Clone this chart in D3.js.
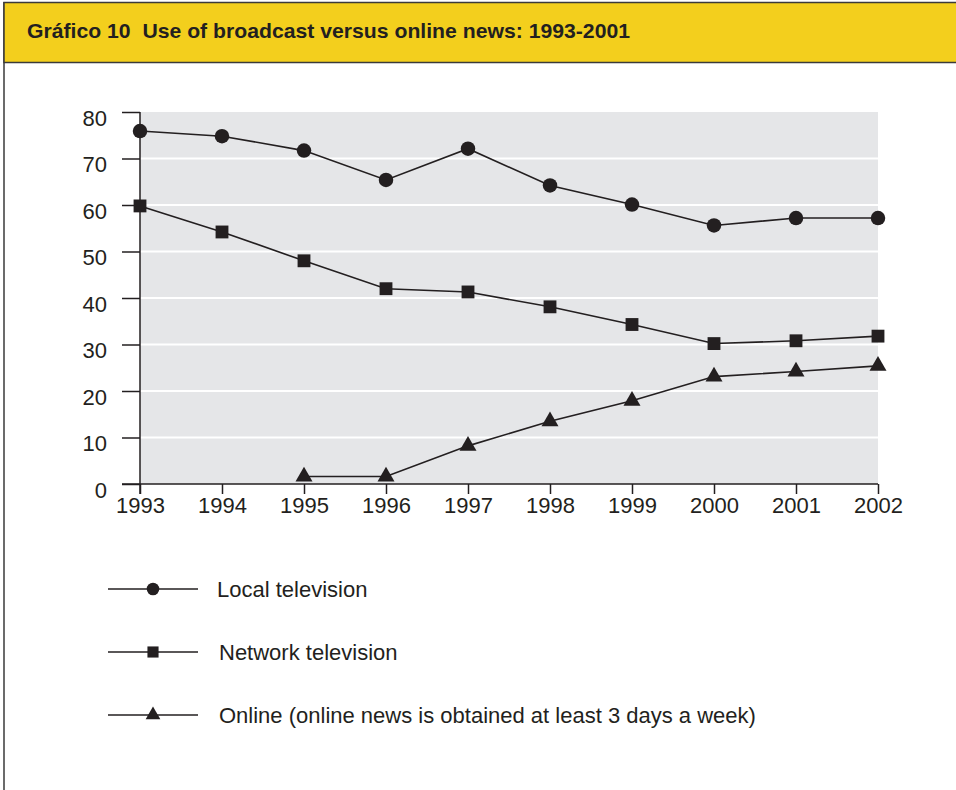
<!DOCTYPE html>
<html>
<head>
<meta charset="utf-8">
<script src="https://cdn.jsdelivr.net/npm/d3@7"></script>
<style>
  html, body { margin: 0; padding: 0; background: #fff; }
  svg { display: block; }
  text { font-family: "Liberation Sans", Arial, Helvetica, sans-serif; fill: #231f20; }
</style>
</head>
<body>
<svg id="chart" width="956" height="790"></svg>
<script>
// Survey years and share (%) of respondents by news source
const years = [1993, 1994, 1995, 1996, 1997, 1998, 1999, 2000, 2001, 2002];
const localTV = [75.9, 74.8, 71.7, 65.4, 72.1, 64.2, 60.1, 55.6, 57.2, 57.2];
const networkTV = [59.8, 54.2, 48.0, 42.0, 41.3, 38.1, 34.3, 30.2, 30.8, 31.8];
const online = [null, null, 1.6, 1.6, 8.2, 13.5, 17.9, 23.1, 24.2, 25.4];
const yTicks = [0, 10, 20, 30, 40, 50, 60, 70, 80];
const seriesNames = ["Local television", "Network television", "Online (online news is obtained at least 3 days a week)"];
const titleText = "Gráfico 10  Use of broadcast versus online news: 1993-2001";

const ink = "#231f20";
const svg = d3.select("#chart");

// Page frame and title band
svg.append("line").attr("x1", 4).attr("x2", 4).attr("y1", 2).attr("y2", 790)
  .attr("stroke", "#3a3a3a").attr("stroke-width", 1.5);
svg.append("rect").attr("x", 4).attr("y", 2.5).attr("width", 960).attr("height", 60)
  .attr("fill", "#f3cf1d").attr("stroke", "#3a3a3a").attr("stroke-width", 1.5);
// Condensed bold heading
svg.append("text").attr("x", 27).attr("y", 38)
  .style("font-weight", "bold").style("font-size", "21px")
  .attr("xml:space", "preserve")
  .attr("textLength", 603).attr("lengthAdjust", "spacingAndGlyphs")
  .text(titleText);

// Plot area
const plotL = 140, plotR = 878, plotT = 112, plotB = 484;
const x = d3.scalePoint().domain(years).range([plotL, plotR]);
const y = d3.scaleLinear().domain([0, 80]).range([plotB, plotT]);

svg.append("rect").attr("x", plotL).attr("y", plotT)
  .attr("width", plotR - plotL).attr("height", plotB - plotT).attr("fill", "#e5e6e8");

// White gridlines
svg.append("g").selectAll("line").data(yTicks.filter(d => d > 0 && d < 80)).join("line")
  .attr("x1", plotL).attr("x2", plotR)
  .attr("y1", d => y(d)).attr("y2", d => y(d))
  .attr("stroke", "#fff").attr("stroke-width", 2);

// Y axis
const yAxis = svg.append("g").attr("transform", `translate(${plotL},0)`)
  .call(d3.axisLeft(y).tickValues(yTicks).tickSize(18).tickPadding(15));
yAxis.select(".domain").remove();
yAxis.selectAll(".tick line").attr("stroke", ink).attr("stroke-width", 1.5);
yAxis.selectAll(".tick text").attr("transform", "translate(0,6)")
  .style("font-size", "22px").attr("fill", ink);
svg.append("line").attr("x1", plotL).attr("x2", plotL).attr("y1", plotT).attr("y2", plotB + 10)
  .attr("stroke", ink).attr("stroke-width", 1.5);

// X axis
const xAxis = svg.append("g").attr("transform", `translate(0,${plotB})`)
  .call(d3.axisBottom(x).tickSize(10).tickPadding(3).tickFormat(d3.format("d")));
xAxis.select(".domain").remove();
xAxis.selectAll(".tick line").attr("stroke", ink).attr("stroke-width", 1.5);
xAxis.selectAll(".tick text").style("font-size", "22px").attr("fill", ink);
svg.append("line").attr("x1", plotL - 18).attr("x2", plotR).attr("y1", plotB).attr("y2", plotB)
  .attr("stroke", ink).attr("stroke-width", 1.5);

// Series lines and markers
const series = [
  { name: seriesNames[0], values: localTV, symbol: d3.symbolCircle, size: 165 },
  { name: seriesNames[1], values: networkTV, symbol: d3.symbolSquare, size: 165 },
  { name: seriesNames[2], values: online, symbol: d3.symbolTriangle, size: 125 }
];

const line = d3.line()
  .defined(d => d.v !== null)
  .x(d => x(d.year)).y(d => y(d.v));

series.forEach(s => {
  const pts = years.map((yr, i) => ({ year: yr, v: s.values[i] }));
  svg.append("path").datum(pts).attr("d", line)
    .attr("fill", "none").attr("stroke", ink).attr("stroke-width", 1.6);
  svg.append("g").selectAll("path").data(pts.filter(d => d.v !== null)).join("path")
    .attr("transform", d => `translate(${x(d.year)},${y(d.v)})`)
    .attr("d", d3.symbol().type(s.symbol).size(s.size))
    .attr("fill", ink);
});

// Legend
const legendY = [589, 652, 715];
const legendTextX = [217, 219, 219];
const legend = svg.append("g");
series.forEach((s, i) => {
  const g = legend.append("g").attr("transform", `translate(0,${legendY[i]})`);
  g.append("line").attr("x1", 108).attr("x2", 198).attr("stroke", ink).attr("stroke-width", 1.5);
  g.append("path").attr("transform", "translate(153,0)")
    .attr("d", d3.symbol().type(s.symbol).size(s.size * 0.75)).attr("fill", ink);
  g.append("text").attr("x", legendTextX[i]).attr("dy", "0.35em")
    .style("font-size", "22px").text(s.name);
});
</script>
</body>
</html>
